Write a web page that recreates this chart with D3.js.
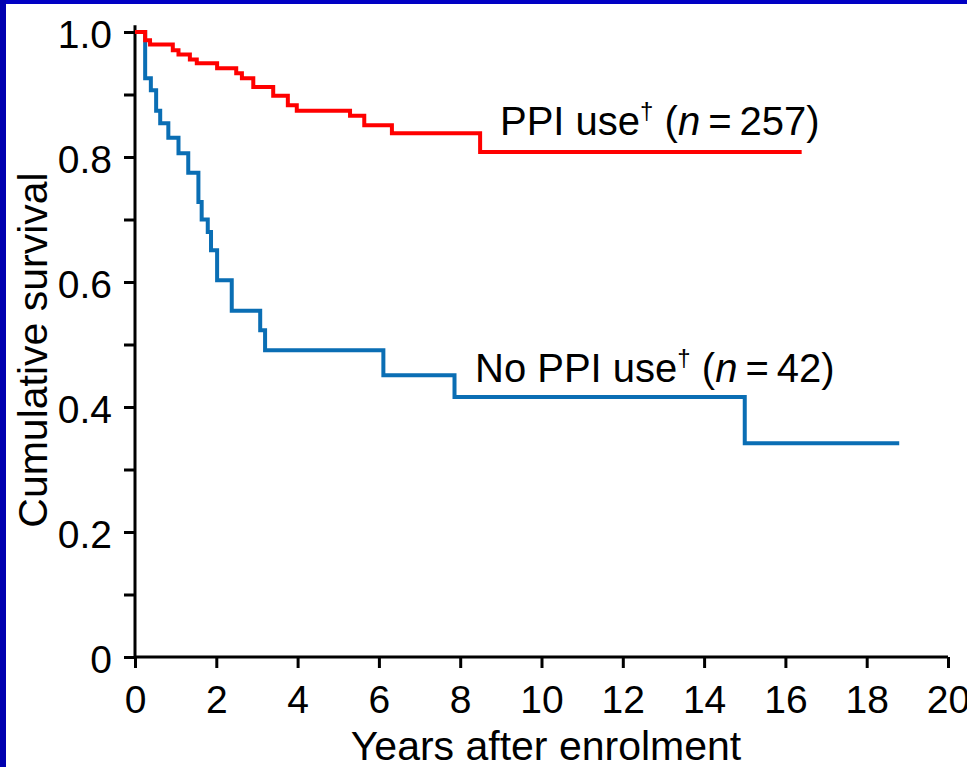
<!DOCTYPE html>
<html>
<head>
<meta charset="utf-8">
<script src="https://cdn.jsdelivr.net/npm/d3@7"></script>
<style>
  body { margin: 0; background: #fff; }
  svg { display: block; font-family: "Liberation Sans", Arial, sans-serif; }
</style>
</head>
<body>
<svg id="chart" width="967" height="767"></svg>
<script>
// Kaplan-Meier steps (years, cumulative survival)
const ppiTimes = [0, 0.25, 0.37, 0.93, 1.07, 1.35, 1.52, 2.02, 2.49, 2.63, 2.91, 3.40, 3.76, 3.98, 5.29, 5.64, 6.32, 8.49, 16.4];
const ppiSurv = [1.0, 0.987, 0.980, 0.971, 0.964, 0.956, 0.950, 0.942, 0.934, 0.926, 0.912, 0.898, 0.883, 0.874, 0.866, 0.851, 0.838, 0.808, 0.808];

const noPpiTimes = [0, 0.25, 0.39, 0.52, 0.62, 0.82, 1.07, 1.31, 1.56, 1.64, 1.79, 1.87, 2.02, 2.38, 3.08, 3.20, 6.11, 7.86, 15.0, 18.8];
const noPpiSurv = [1.0, 0.926, 0.907, 0.874, 0.854, 0.831, 0.806, 0.775, 0.728, 0.700, 0.680, 0.651, 0.603, 0.554, 0.523, 0.491, 0.451, 0.416, 0.342, 0.342];

const xTicks = [0, 2, 4, 6, 8, 10, 12, 14, 16, 18, 20];
const yTicks = [0, 0.1, 0.2, 0.3, 0.4, 0.5, 0.6, 0.7, 0.8, 0.9, 1.0];
const yLabels = { 0: "0", 2: "0.2", 4: "0.4", 6: "0.6", 8: "0.8", 10: "1.0" };

const svg = d3.select("#chart");
const W = 967, H = 767;

// white page with the blue slide frame on top and left
svg.append("rect").attr("width", W).attr("height", H).attr("fill", "#fff");
svg.append("rect").attr("width", W).attr("height", 4).attr("fill", "#0000c4");
svg.append("rect").attr("width", 6).attr("height", H).attr("fill", "#0000b0");

const x = d3.scaleLinear().domain([0, 20]).range([135, 948]);
const y = d3.scaleLinear().domain([0, 1]).range([657, 32]);

const line = d3.line()
  .x(d => x(d[0]))
  .y(d => y(d[1]))
  .curve(d3.curveStepAfter);

// axes
const xAxis = svg.append("g")
  .attr("transform", `translate(0,${y(0)})`)
  .call(d3.axisBottom(x).tickValues(xTicks).tickSize(11).tickSizeOuter(0).tickPadding(17).tickFormat(d3.format("d")));

const yAxis = svg.append("g")
  .attr("transform", `translate(${x(0)},0)`)
  .call(d3.axisLeft(y).tickValues(yTicks).tickSize(11).tickSizeOuter(0).tickPadding(12)
    .tickFormat(d => yLabels[Math.round(d * 10)] || ""));

[xAxis, yAxis].forEach(a => {
  a.selectAll("path.domain").remove();
  a.selectAll("line").attr("stroke", "#000").attr("stroke-width", 3);
  a.selectAll("text").attr("fill", "#000").style("font-size", "39px")
    .style("font-family", "'Liberation Sans', Arial, sans-serif");
});
yAxis.selectAll("text").attr("dy", "0.4em");

// axis lines (y line runs a little above 1.0 like the original)
svg.append("line")
  .attr("x1", x(0)).attr("x2", x(0))
  .attr("y1", y(0) + 1).attr("y2", y(1.011))
  .attr("stroke", "#000").attr("stroke-width", 3);
svg.append("line")
  .attr("x1", x(0)).attr("x2", x(20))
  .attr("y1", y(0)).attr("y2", y(0))
  .attr("stroke", "#000").attr("stroke-width", 3);

// survival curves
svg.append("path")
  .datum(d3.zip(noPpiTimes, noPpiSurv))
  .attr("fill", "none")
  .attr("stroke", "#0a6eb4")
  .attr("stroke-width", 4)
  .attr("d", line);

svg.append("path")
  .datum(d3.zip(ppiTimes, ppiSurv))
  .attr("fill", "none")
  .attr("stroke", "#ff0000")
  .attr("stroke-width", 4)
  .attr("d", line);

// axis titles
svg.append("text")
  .attr("x", 546).attr("y", 760)
  .attr("text-anchor", "middle")
  .style("font-size", "41px")
  .text("Years after enrolment");

svg.append("text")
  .attr("transform", "translate(47,350) rotate(-90)")
  .attr("text-anchor", "middle")
  .style("font-size", "41px")
  .text("Cumulative survival");

// curve labels
function curveLabel(px, py, name, n) {
  const t = svg.append("text").attr("x", px).attr("y", py).style("font-size", "40px");
  t.append("tspan").text(name);
  t.append("tspan").text("\u2020").style("font-size", "24px").attr("dy", -16);
  t.append("tspan").text(" (").attr("dy", 16);
  t.append("tspan").text("n").style("font-style", "italic");
  t.append("tspan").text("\u2009=\u2009" + n + ")");
}
curveLabel(500, 135, "PPI use", 257);
curveLabel(475, 382, "No PPI use", 42);
</script>
</body>
</html>
